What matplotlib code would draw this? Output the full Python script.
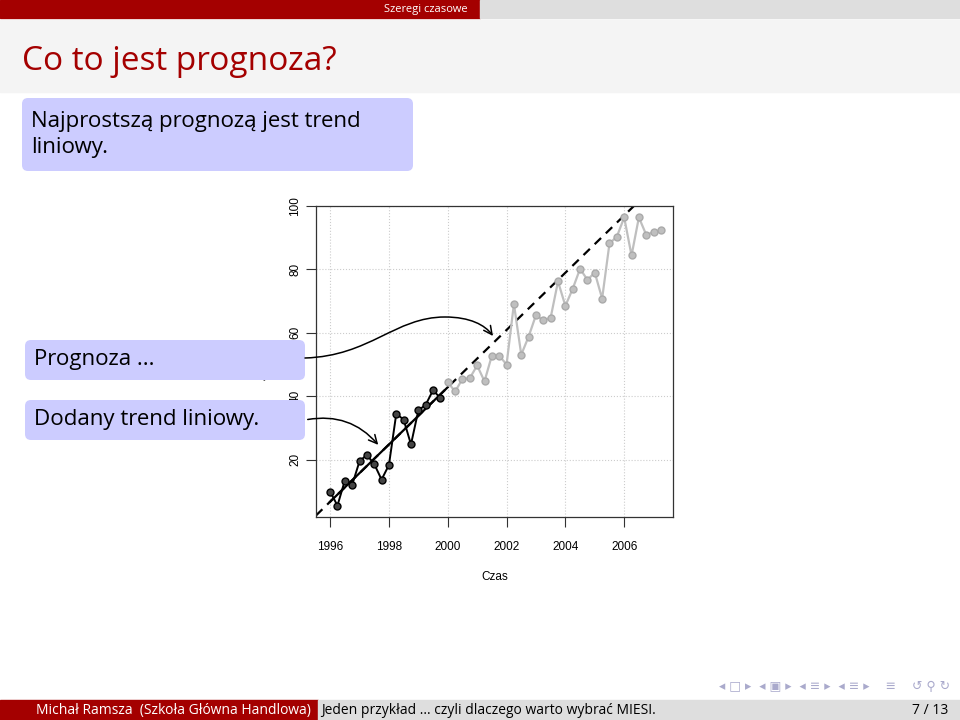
import numpy as np
import matplotlib
matplotlib.use("Agg")
import matplotlib.pyplot as plt
from matplotlib.patches import FancyBboxPatch, Rectangle, FancyArrowPatch
from matplotlib.path import Path

# data
hist_years = 1996 + np.arange(16) / 4
hist_vals = [9.9, 5.5, 13.4, 12.0, 19.5, 21.5, 18.6, 13.7, 18.3, 34.5, 32.6, 24.8,
             35.5, 37.3, 41.9, 39.4]
fut_years = 2000 + np.arange(30) / 4
fut_vals = [44.4, 41.5, 45.4, 45.7, 49.7, 44.7, 52.8, 52.8, 50.0, 69.1, 53.1, 58.8,
            65.6, 63.9, 64.8, 76.2, 68.5, 73.9, 80.2, 76.7, 79.0, 70.8, 88.2, 90.3,
            96.4, 84.4, 96.4, 90.9, 91.8, 92.4]
x_ticks = [1996, 1998, 2000, 2002, 2004, 2006]
y_ticks = [20, 40, 60, 80, 100]

W, H = 960, 720
fig = plt.figure(figsize=(9.6, 7.2), dpi=100)
bg = fig.add_axes([0, 0, 1, 1])
bg.set_xlim(0, W); bg.set_ylim(H, 0); bg.axis("off")

red = "#a40000"
SF = "Open Sans"
# header
bg.add_patch(Rectangle((0, 0), 480, 18, color=red))
bg.add_patch(Rectangle((480, 0), 480, 18, color="#dedede"))
bg.text(468, 9.5, "Szeregi czasowe", color="white", fontsize=8, ha="right", va="center", family=SF)
bg.add_patch(Rectangle((0, 20), 960, 72, color="#f4f4f4"))
bg.text(22, 61, "Co to jest prognoza?", color=red, fontsize=24, va="center", family=SF)

def box(x, y, w, h, lines, fs=16):
    bg.add_patch(FancyBboxPatch((x + 6, y + 6), w - 12, h - 12,
                                boxstyle="round,pad=6", fc="#ccccff", ec="none", zorder=5))
    bg.text(x + 9, y + h / 2, lines, fontsize=fs, va="center", family=SF,
            linespacing=1.25, zorder=6)

box(22, 98, 391, 73, "Najprostszą prognozą jest trend\nliniowy.")

# footer
bg.add_patch(Rectangle((0, 700), 318, 20, color=red))
bg.add_patch(Rectangle((318, 700), 642, 20, color="#dedede"))
bg.text(173, 710.5, "Michał Ramsza  (Szkoła Główna Handlowa)", color="white", fontsize=10,
        ha="center", va="center", family=SF)
bg.text(321, 710.5, "Jeden przykład ... czyli dlaczego warto wybrać MIESI.", color="black",
        fontsize=10, va="center", family=SF)
bg.text(948, 710.5, "7 / 13", fontsize=10, ha="right", va="center", family=SF)
bg.text(950, 686, "◂ □ ▸  ◂ ▣ ▸  ◂ ≡ ▸  ◂ ≡ ▸    ≡    ↺ ⚲ ↻", color="#aaaacc",
        fontsize=9, ha="right", va="center", family="DejaVu Sans")

# chart
L, R_, T, B = 316, 673, 206, 517
ax = fig.add_axes([L / W, 1 - B / H, (R_ - L) / W, (B - T) / H])
ax.set_xlim(1995.52, 2007.66)
ax.set_ylim(1.9, 100)
ax.set_xticks(x_ticks)
ax.set_yticks(y_ticks)
ax.tick_params(direction="out", length=7, labelsize=8.5, color="#333333")
ax.tick_params(axis="x", pad=10)
for lab in ax.get_yticklabels():
    lab.set_rotation(90); lab.set_va("center"); lab.set_family("Liberation Sans")
for lab in ax.get_xticklabels():
    lab.set_family("Liberation Sans")
ax.set_xlabel("Czas", fontsize=8.5, family="Liberation Sans", labelpad=13)
ax.set_ylabel("Jakość", fontsize=8.5, family="Liberation Sans", labelpad=14)
ax.grid(True, color="#cccccc", linestyle=":", linewidth=0.8)
for s in ax.spines.values():
    s.set_color("#333333"); s.set_linewidth(0.9)

coef = np.polyfit(hist_years, hist_vals, 1)
xs = np.linspace(1995.52, 2007.66, 100)
ax.plot(xs, np.polyval(coef, xs), "k--", lw=1.6, dashes=(4, 3), zorder=2)
xh = np.linspace(1996, 2000, 10)
ax.plot(xh, np.polyval(coef, xh), "k-", lw=1.6, zorder=3)
ax.plot(fut_years, fut_vals, "-o", color="#bfbfbf", ms=5, lw=1.6, mec="#aaaaaa", zorder=4)
ax.plot(hist_years, hist_vals, "-o", color="black", mfc="#444444", mec="black",
        ms=5, lw=1.4, zorder=5)

# callout boxes and arrows
box(25, 340, 280, 40, "Prognoza ...")
box(25, 400, 280, 40, "Dodany trend liniowy.")
p1 = Path([(305, 358), (370, 356), (395, 317), (445, 317), (470, 317), (485, 325), (493, 336)],
          [Path.MOVETO, Path.CURVE4, Path.CURVE4, Path.CURVE4, Path.CURVE4, Path.CURVE4, Path.CURVE4])
a1 = FancyArrowPatch(path=p1, arrowstyle="->,head_length=6,head_width=3", lw=1.1,
                     color="black", zorder=7)
a2 = FancyArrowPatch((305, 420), (380, 447), connectionstyle="arc3,rad=-0.3",
                     arrowstyle="->,head_length=6,head_width=3", lw=1.1, color="black", zorder=7)
bg.add_patch(a1); bg.add_patch(a2)
bg.set_zorder(10); bg.patch.set_alpha(0)

fig.savefig("out.png", dpi=100)
